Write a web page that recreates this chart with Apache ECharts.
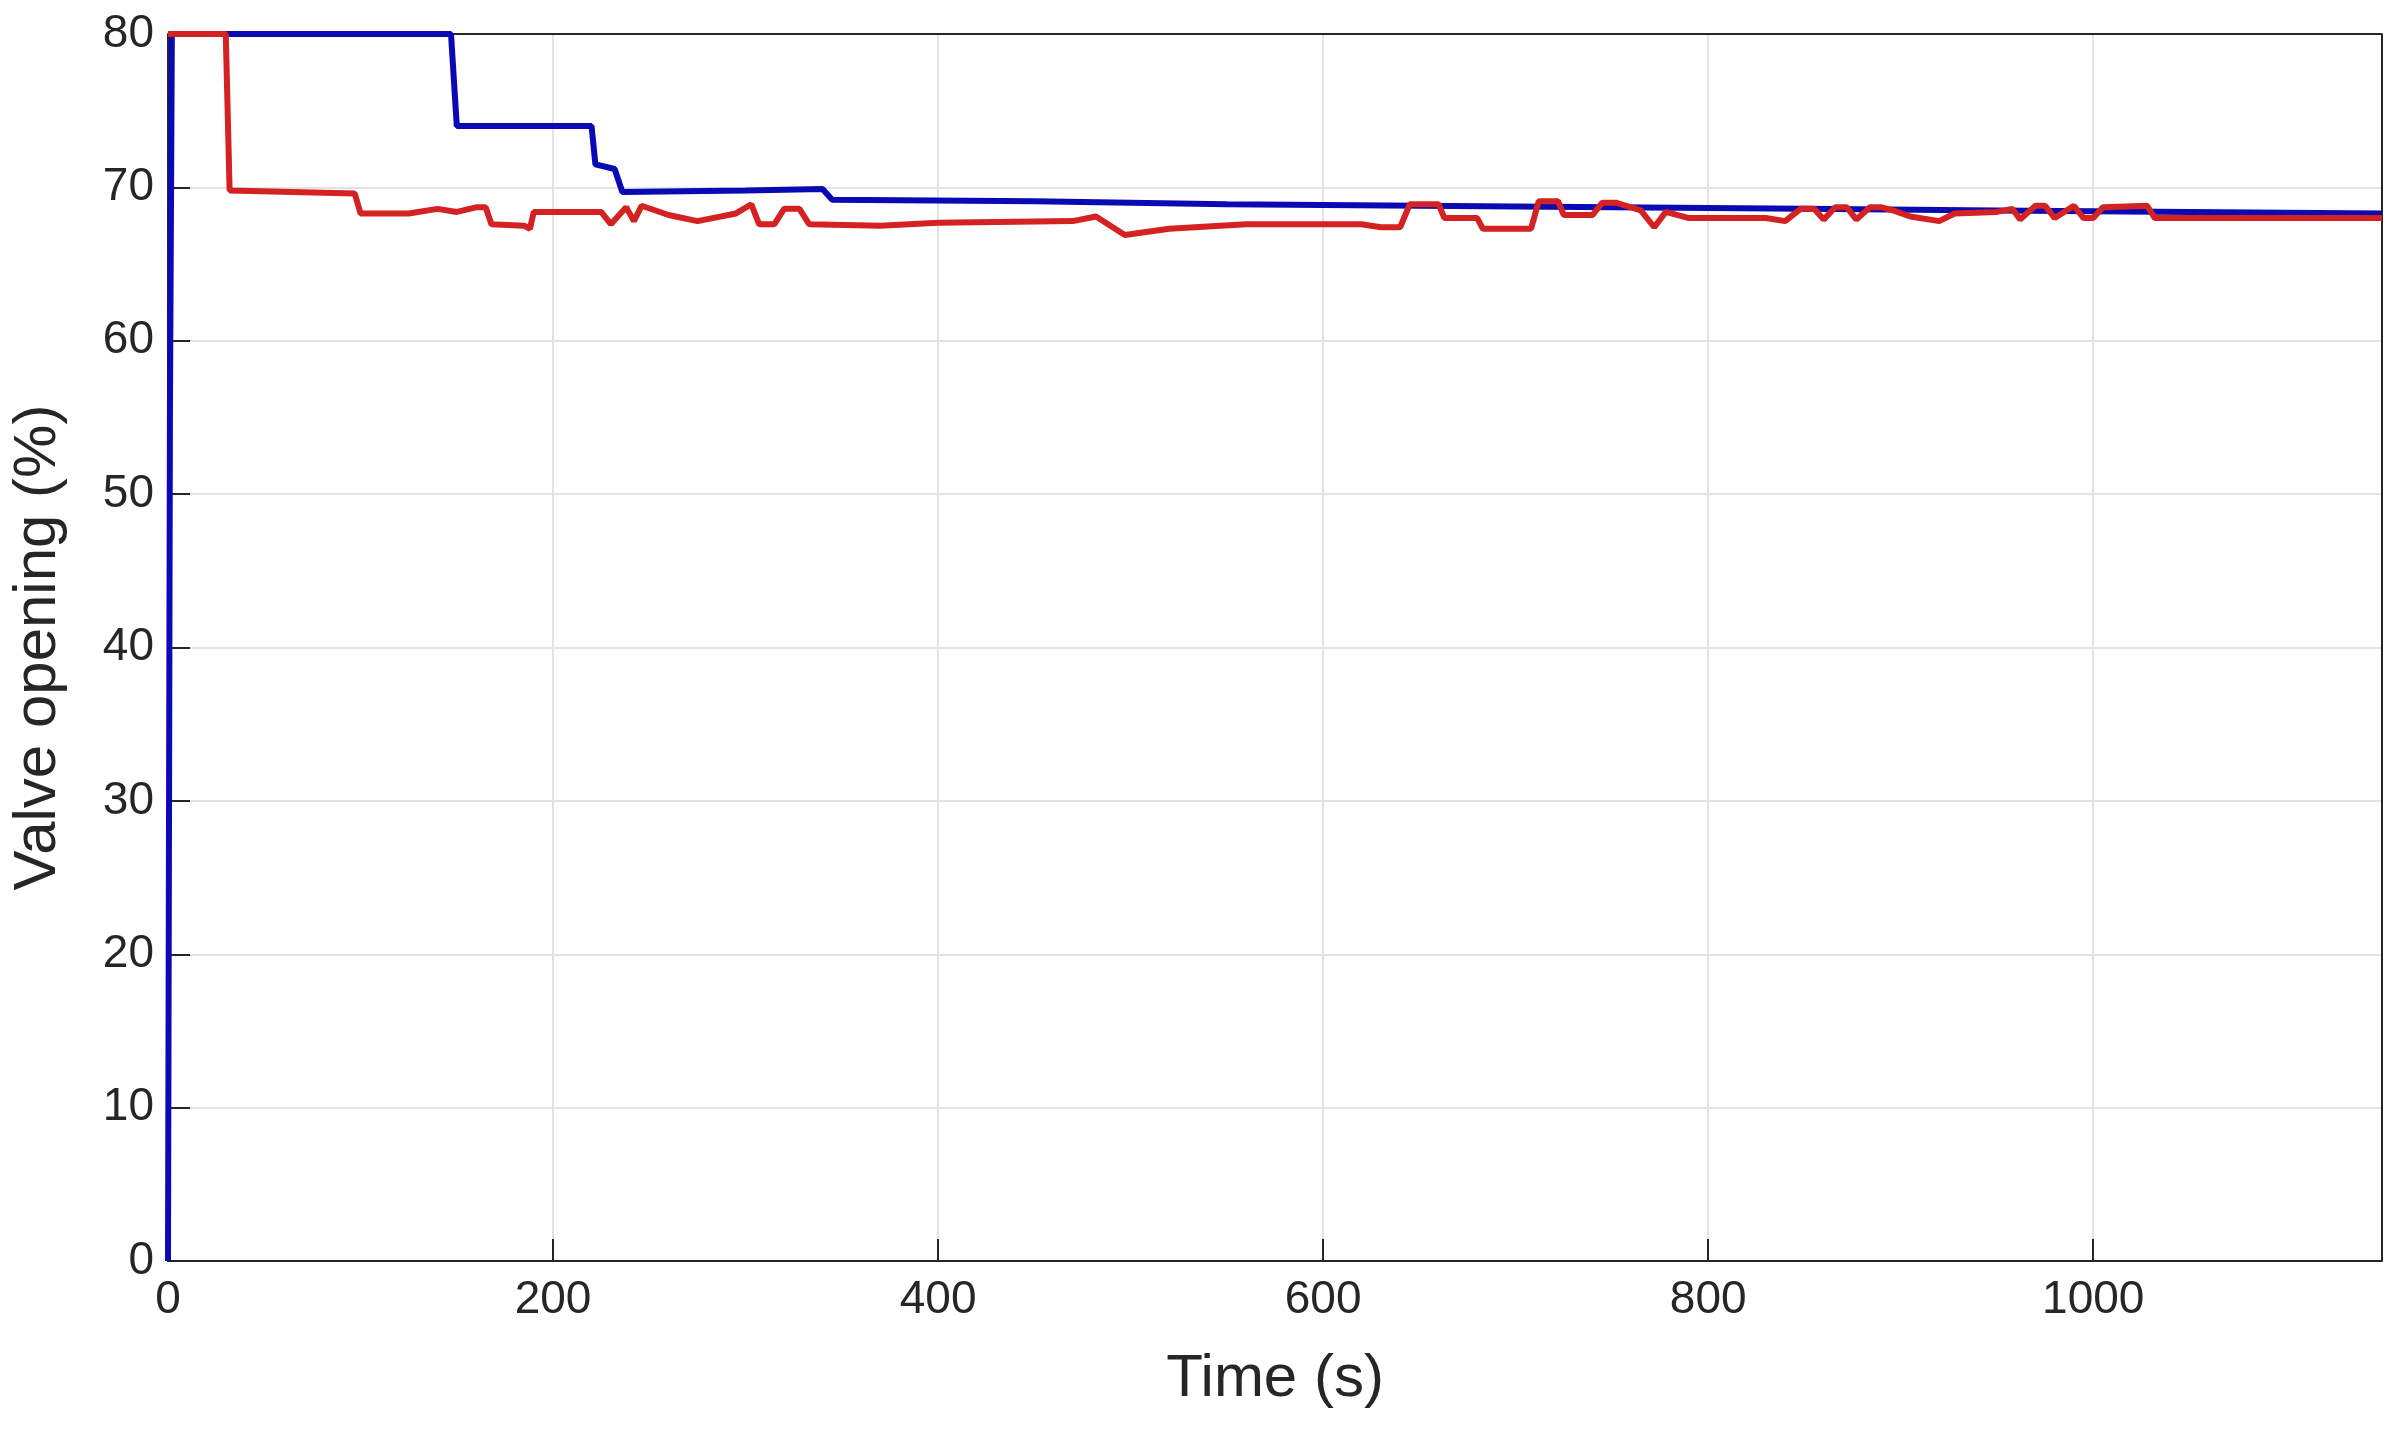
<!DOCTYPE html>
<html>
<head>
<meta charset="utf-8">
<script src="https://cdn.jsdelivr.net/npm/echarts@6/dist/echarts.min.js"></script>
<style>html,body{margin:0;background:#fff}#main{width:2404px;height:1433px}</style>
</head>
<body>
<div id="main"></div>
<script>
// blue valve opening: [time, value]
var blueData = [
    [0, 0], [1, 55], [2, 80], [147, 80], [150, 74], [220, 74], [222, 71.5], [232, 71.2],
    [236, 69.7], [300, 69.8], [340, 69.9], [345, 69.2], [450, 69.1], [550, 68.9],
    [650, 68.8], [750, 68.7], [850, 68.6], [950, 68.5], [1050, 68.4], [1150, 68.3]
];
// red valve opening
var redData = [
    [0, 80], [30, 80], [32, 69.8], [97, 69.6], [100, 68.3], [125, 68.3], [140, 68.6], [150, 68.4],
    [160, 68.7], [165, 68.7], [168, 67.6], [185, 67.5], [188, 67.3], [190, 68.4], [225, 68.4],
    [230, 67.6], [238, 68.7], [242, 67.8], [246, 68.8], [260, 68.2], [275, 67.8], [295, 68.3],
    [303, 68.9], [307, 67.6], [315, 67.6], [320, 68.6], [328, 68.6], [333, 67.6], [370, 67.5],
    [400, 67.7], [470, 67.8], [482, 68.1], [497, 66.9], [520, 67.3], [560, 67.6], [620, 67.6],
    [630, 67.4], [640, 67.4], [645, 68.9], [660, 68.9], [663, 68], [680, 68], [683, 67.3],
    [708, 67.3], [712, 69.1], [722, 69.1], [725, 68.2], [740, 68.2], [745, 69], [752, 69],
    [765, 68.5], [772, 67.4], [778, 68.4], [790, 68], [830, 68], [840, 67.8], [848, 68.6],
    [855, 68.6], [860, 67.9], [866, 68.7], [872, 68.7], [877, 67.9], [884, 68.7], [890, 68.7],
    [896, 68.5], [905, 68.1], [920, 67.8], [928, 68.3], [950, 68.4], [958, 68.6], [962, 67.9],
    [970, 68.8], [975, 68.8], [980, 68], [990, 68.8], [995, 68], [1000, 68], [1005, 68.7],
    [1028, 68.8], [1032, 68], [1150, 68]
];
var xTicks = [0, 200, 400, 600, 800, 1000];
var yTicks = [0, 10, 20, 30, 40, 50, 60, 70, 80];

var chart = echarts.init(document.getElementById('main'));
var font = 'Liberation Sans, Arial, sans-serif';
var axisLineStyle = { show: true, lineStyle: { color: '#262626', width: 2 } };
chart.setOption({
    animation: false,
    grid: { left: 165, right: 22, top: 34, bottom: 172 },
    xAxis: {
        type: 'value', min: 0, max: 1150, interval: 200,
        name: 'Time (s)', nameLocation: 'middle', nameGap: 88,
        nameTextStyle: { fontSize: 60, color: '#262626', fontFamily: font },
        axisLine: axisLineStyle,
        axisTick: { show: true, inside: true, length: 22, lineStyle: { color: '#262626', width: 2 } },
        axisLabel: { fontSize: 46, color: '#262626', fontFamily: font, margin: 16,
            showMaxLabel: false,
            formatter: function (v) { return xTicks.indexOf(v) >= 0 ? String(v) : ''; } },
        splitLine: { show: true, lineStyle: { color: '#e3e3e3', width: 2 } }
    },
    yAxis: {
        type: 'value', min: 0, max: 80, interval: 10,
        name: 'Valve opening (%)', nameLocation: 'middle', nameGap: 100, nameRotate: 90,
        nameTextStyle: { fontSize: 60, color: '#262626', fontFamily: font },
        axisLine: axisLineStyle,
        axisTick: { show: true, inside: true, length: 22, lineStyle: { color: '#262626', width: 2 } },
        axisLabel: { fontSize: 46, color: '#262626', fontFamily: font, margin: 14,
            formatter: function (v) { return yTicks.indexOf(v) >= 0 ? String(v) : ''; } },
        splitLine: { show: true, lineStyle: { color: '#e3e3e3', width: 2 } }
    },
    series: [
        { type: 'line', data: blueData, showSymbol: false, z: 2,
          lineStyle: { color: '#0a0ab4', width: 6 } },
        { type: 'line', data: redData, showSymbol: false, z: 3,
          lineStyle: { color: '#d42121', width: 6 } },
        // box top/right border
        { type: 'line', data: [[0, 80], [1150, 80], [1150, 0]], showSymbol: false, silent: true, z: 1,
          lineStyle: { color: '#262626', width: 2 } }
    ]
});
</script>
</body>
</html>
